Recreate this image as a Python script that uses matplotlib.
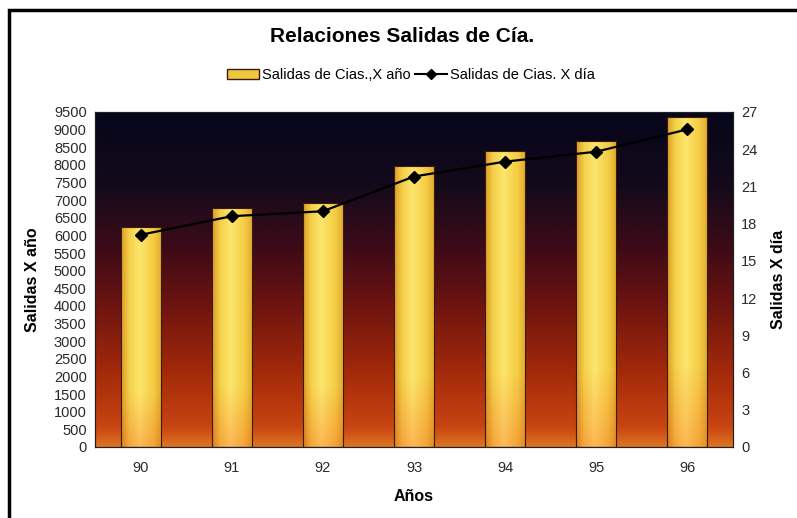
import numpy as np
import matplotlib
matplotlib.use("Agg")
import matplotlib.pyplot as plt
from matplotlib.colors import LinearSegmentedColormap
from matplotlib.lines import Line2D
from matplotlib.patches import Patch, Rectangle

plt.rcParams['font.family'] = ['Liberation Sans', 'DejaVu Sans']

years = ['90', '91', '92', '93', '94', '95', '96']
salidas_anio = [6240, 6780, 6920, 7970, 8395, 8680, 9360]
salidas_dia = [17.1, 18.6, 19.0, 21.8, 23.0, 23.8, 25.6]

fig = plt.figure(figsize=(7.97, 5.18), dpi=100)
ax = fig.add_axes([0.1192, 0.1371, 0.8005, 0.6467])
ax2 = ax.twinx()

x = np.arange(len(years))
ax.set_xlim(-0.5, len(years) - 0.5)
ax.set_ylim(0, 9500)
ax2.set_ylim(0, 27)

# background: dark navy at the top fading to orange at the bottom
bg = LinearSegmentedColormap.from_list('bg', [
    (0.0, '#dc7420'), (0.06, '#c84412'), (0.22, '#a42a0a'),
    (0.42, '#6e1410'), (0.6, '#3c0a18'), (0.78, '#140a1c'), (1.0, '#06061a')])
grad = np.linspace(0, 1, 256).reshape(-1, 1)
ax.imshow(grad, cmap=bg, aspect='auto', origin='lower',
          extent=[-0.5, len(years) - 0.5, 0, 9500], zorder=0)

# golden bars with a horizontal sheen, warmer towards the base
bars = ax.bar(x, salidas_anio, width=0.44, color='none', edgecolor='#3a1a08',
              linewidth=0.8, zorder=2)
bar_cmap = LinearSegmentedColormap.from_list('bar', [
    (0.0, '#dc9a24'), (0.2, '#f4d04a'), (0.45, '#fce66c'),
    (0.8, '#f4cc44'), (1.0, '#e0a82c')])
h = np.linspace(0, 1, 128)
v = np.linspace(0, 1, 128).reshape(-1, 1)
rgba = bar_cmap(h)[None, :, :].repeat(128, axis=0)
shade = 0.8 + 0.2 * np.clip(v * 4, 0, 1)
rgba[..., 1] *= shade
rgba[..., 2] *= shade
for b in bars:
    im = ax.imshow(rgba, aspect='auto', origin='lower',
                   extent=[b.get_x(), b.get_x() + b.get_width(), 0, b.get_height()],
                   zorder=1)
    im.set_clip_path(b)

ax2.plot(x, salidas_dia, color='black', lw=1.6, marker='D', ms=6.5, zorder=5)

ax.set_xticks(x)
ax.set_xticklabels(years)
ax.set_yticks(np.arange(0, 9501, 500))
ax2.set_yticks(np.arange(0, 28, 3))
for a in (ax, ax2):
    a.tick_params(length=0, labelsize=10.5, colors='#2a2a2a', pad=6)
    for s in a.spines.values():
        s.set_color('#202020')
        s.set_linewidth(0.8)
ax.tick_params(axis='x', pad=10)

ax.set_xlabel('Años', fontsize=11.5, fontweight='bold', labelpad=10)
ax.set_ylabel('Salidas X año', fontsize=11.5, fontweight='bold', labelpad=10)
ax2.set_ylabel('Salidas X día', fontsize=11.5, fontweight='bold', labelpad=10,
               rotation=90)

fig.text(0.505, 0.93, 'Relaciones Salidas de Cía.', ha='center', va='center',
         fontsize=15, fontweight='bold')

handles = [Patch(facecolor='#f0c840', edgecolor='#3a1a08', linewidth=1),
           Line2D([], [], color='black', lw=1.5, marker='D', ms=5)]
fig.legend(handles, ['Salidas de Cias.,X año', 'Salidas de Cias. X día'],
           loc='center', bbox_to_anchor=(0.515, 0.855), ncol=2, frameon=False,
           fontsize=10.5, handlelength=2.2, handletextpad=0.2, columnspacing=0.3)

# outer frame around the chart
fig.add_artist(Rectangle((0.011, -0.01), 1.2, 0.99, transform=fig.transFigure,
                         fill=False, edgecolor='black', linewidth=2.5))

fig.savefig('out.png', dpi=100)
